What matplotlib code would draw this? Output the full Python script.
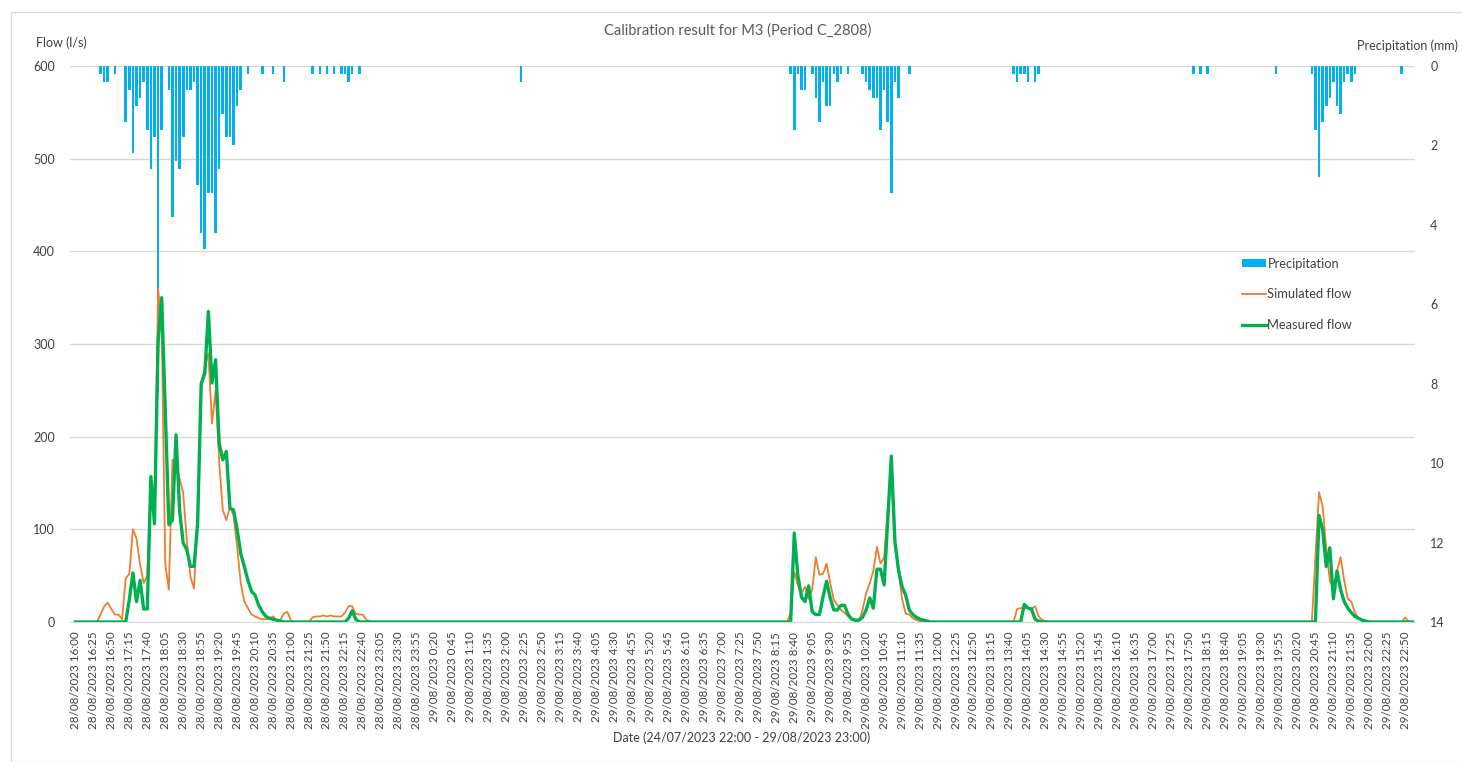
import numpy as np
import pandas as pd
import matplotlib
matplotlib.use("Agg")
import matplotlib.pyplot as plt
from matplotlib.patches import Patch, Rectangle
from matplotlib.lines import Line2D

# 5-minute time steps for the calibration period
times = pd.date_range("2023-08-28 16:00", "2023-08-29 23:00", freq="5min")

# Rainfall (mm per 5 min), listed as (first timestamp, consecutive values)
precip_events = [
    ("2023-08-28 16:35", [0.2, 0.4, 0.4, 0, 0.2, 0, 0, 1.4, 0.6, 2.2, 1.0, 0.8, 0.4, 1.6, 2.6,
                          1.8, 8.2, 1.6, 0, 0.6, 3.8, 2.4, 2.6, 1.8, 0.6, 0.6, 0.4, 3.0, 4.2,
                          4.6, 3.2, 3.2, 4.2, 2.6, 1.2, 1.8, 1.8, 2.0, 1.0, 0.6, 0, 0.2, 0, 0,
                          0, 0.2, 0, 0, 0.2, 0, 0, 0.4]),
    ("2023-08-28 21:30", [0.2, 0, 0.2, 0, 0.2, 0, 0.2, 0, 0.2, 0.2, 0.4, 0.2, 0, 0.2]),
    ("2023-08-29 02:20", [0.4]),
    ("2023-08-29 08:35", [0.2, 1.6, 0.2, 0.6, 0.6, 0, 0.2, 0.8, 1.4, 0.4, 1.0, 1.0, 0.2, 0.4,
                          0.2, 0, 0.2, 0, 0, 0, 0.2, 0.4, 0.6, 0.8, 0.8, 1.6, 0.6, 1.4, 3.2,
                          0.4, 0.8, 0, 0, 0.2]),
    ("2023-08-29 13:45", [0.2, 0.4, 0.2, 0.2, 0.4, 0, 0.4, 0.2]),
    ("2023-08-29 17:55", [0.2, 0, 0.2, 0, 0.2]),
    ("2023-08-29 19:50", [0.2]),
    ("2023-08-29 20:40", [0.2, 1.6, 2.8, 1.4, 1.0, 0.8, 0.4, 1.0, 1.2, 0.4, 0.2, 0.4, 0.2]),
    ("2023-08-29 22:45", [0.2]),
]

# Simulated flow (l/s)
simulated_events = [
    ("2023-08-28 16:30", [0, 8, 17, 21, 14, 8, 8, 3, 47, 52, 100, 90, 62, 42, 50, 150, 110,
                          360, 322, 63, 35, 175, 168, 155, 139, 88, 49, 36, 110, 258, 274,
                          290, 214, 250, 173, 121, 110, 124, 115, 81, 42, 22, 15, 8, 6, 4,
                          3, 3, 4, 6, 2, 2, 9, 11, 1]),
    ("2023-08-28 21:30", [5, 6, 6, 7, 6, 7, 6, 6, 6, 10, 17, 17, 9, 8, 8, 2, 1]),
    ("2023-08-29 08:30", [0, 10, 54, 40, 31, 38, 25, 35, 70, 51, 52, 63, 42, 24, 18, 13, 10,
                          6, 3, 1, 1, 13, 31, 42, 55, 81, 63, 70, 120, 160, 83, 55, 25, 9,
                          8, 4, 2, 1]),
    ("2023-08-29 13:45", [0, 14, 15, 15, 15, 14, 17, 6, 2, 1]),
    ("2023-08-29 20:40", [0, 70, 140, 125, 80, 45, 35, 55, 70, 45, 25, 22, 10, 4, 2, 1]),
    ("2023-08-29 22:45", [0, 5, 0]),
]

# Measured flow (l/s)
measured_events = [
    ("2023-08-28 17:10", [0, 24, 53, 22, 45, 14, 14, 157, 106, 300, 350, 230, 105, 110, 202,
                          120, 85, 78, 60, 60, 106, 257, 268, 335, 258, 283, 193, 175, 184,
                          123, 121, 100, 74, 60, 45, 33, 29, 18, 11, 6, 4, 3, 2, 1]),
    ("2023-08-28 22:15", [0, 4, 12, 3]),
    ("2023-08-29 08:35", [0, 96, 50, 27, 22, 39, 11, 8, 8, 27, 44, 26, 13, 13, 18, 18, 8, 3,
                          2, 2, 5, 13, 26, 15, 57, 57, 40, 110, 179, 87, 56, 38, 29, 13, 8,
                          5, 3, 2, 1]),
    ("2023-08-29 13:55", [0, 19, 15, 14, 3, 1]),
    ("2023-08-29 20:45", [0, 115, 100, 60, 80, 25, 55, 35, 22, 15, 10, 6, 4, 2, 1]),
]

title = "Calibration result for M3 (Period C_2808)"
xlabel = "Date (24/07/2023 22:00 - 29/08/2023 23:00)"


def build_series(events):
    s = np.zeros(len(times))
    for start, vals in events:
        p = times.get_loc(pd.Timestamp(start))
        s[p:p + len(vals)] = vals
    return s


precip = build_series(precip_events)
simulated = build_series(simulated_events)
measured = build_series(measured_events)
x = np.arange(len(times))

tick_pos = x[::5][:75]
tick_labels = [f"{t:%d/%m/%Y} {t.hour}:{t:%M}" for t in times[tick_pos]]

plt.rcParams["font.family"] = ["Lato", "DejaVu Sans"]
GREY = "#595959"
DARK = "#404040"
GRID = "#D9D9D9"

W, H = 1462, 762
fig = plt.figure(figsize=(W / 100, H / 100), dpi=100)
L, R, T, B = 70, 1415, 66, 622
ax = fig.add_axes([L / W, 1 - B / H, (R - L) / W, (B - T) / H])
ax2 = ax.twinx()

# flow axis
ax.set_ylim(0, 600)
ax.set_yticks(np.arange(0, 601, 100))
ax.grid(axis="y", color=GRID, lw=1)
ax.set_axisbelow(True)
ax.set_xlim(-1.5, 372.7)
ax.set_xticks(tick_pos)
ax.set_xticklabels(tick_labels, rotation=90, fontsize=8.4, color=DARK)
ax.tick_params(axis="both", length=0)
ax.tick_params(axis="y", labelsize=9, pad=11, labelcolor=DARK)
ax.tick_params(axis="x", pad=7)
for side in ["left", "right", "top"]:
    ax.spines[side].set_visible(False)
ax.spines["bottom"].set_color(GRID)

# precipitation axis (inverted, hanging from the top)
ax2.bar(x, precip, width=0.72, color="#00B0F0", zorder=1)
ax2.set_ylim(14, 0)
ax2.set_yticks(np.arange(0, 15, 2))
ax2.tick_params(axis="y", length=0, labelsize=9, labelcolor=DARK, pad=11)
for side in ["left", "right", "top", "bottom"]:
    ax2.spines[side].set_visible(False)

# flow lines drawn above the bars
ax3 = ax.twinx()
ax3.set_ylim(0, 600)
ax3.set_yticks([])
for side in ["left", "right", "top", "bottom"]:
    ax3.spines[side].set_visible(False)
ax3.plot(x, simulated, color="#ED7D31", lw=1.3, solid_joinstyle="round")
ax3.plot(x, measured, color="#00B050", lw=2.4, solid_joinstyle="round")

# texts
fig.text(738 / W, 1 - 31 / H, title, ha="center", va="center", fontsize=10.5, color=GREY)
fig.text(36 / W, 1 - 43 / H, "Flow (l/s)", ha="left", va="center", fontsize=9, color=DARK)
fig.text(1357 / W, 1 - 46 / H, "Precipitation (mm)", ha="left", va="center", fontsize=9,
         color=DARK)
fig.text(742 / W, 1 - 738 / H, xlabel, ha="center", va="center", fontsize=9, color=DARK)

handles = [
    Patch(facecolor="#00B0F0", edgecolor="none"),
    Line2D([], [], color="#ED7D31", lw=1.3),
    Line2D([], [], color="#00B050", lw=2.4),
]
fig.legend(handles, ["Precipitation", "Simulated flow", "Measured flow"],
           loc="upper left", bbox_to_anchor=(1230 / W, 1 - 246 / H),
           frameon=False, fontsize=9.3, labelcolor=DARK, handlelength=1.9,
           handleheight=0.6, handletextpad=0.1, labelspacing=1.45)

# outer chart border
fig.patches.append(Rectangle((11 / W, 0.0), 1.2, 1 - 12 / H, transform=fig.transFigure,
                             fill=False, edgecolor=GRID, lw=1))

fig.savefig("out.png", dpi=100)
